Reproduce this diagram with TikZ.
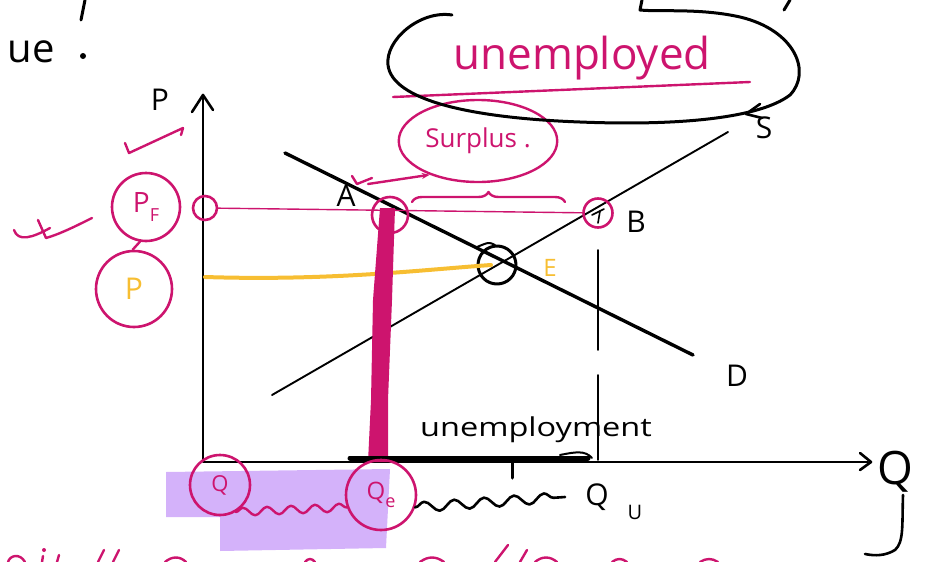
\documentclass[tikz,border=0pt]{standalone}
\usepackage{fontspec}
\setmainfont{Open Sans}
\usetikzlibrary{decorations.pathmorphing,decorations.pathreplacing,shapes.geometric,arrows.meta}
\definecolor{mag}{RGB}{205,20,110}
\definecolor{gold}{RGB}{247,190,50}
\definecolor{lav}{RGB}{212,178,250}
\begin{document}
\begin{tikzpicture}[x=1pt,y=-1pt,line cap=round,line join=round,
  ink/.style={black,line width=2.6pt},
  thinink/.style={black,line width=1.9pt},
  pen/.style={mag,line width=2.4pt},
  ring/.style={draw=mag,line width=2.6pt,circle,inner sep=0pt},
  lab/.style={font=\fontsize{30}{32}\selectfont,inner sep=0pt},
  wave/.style={decorate,decoration={snake,amplitude=4pt,segment length=24pt}}
]
\useasboundingbox (0,0) rectangle (926,562);
% lavender highlight
\fill[lav] (166,472) -- (390,469) -- (386,548) -- (220,551) -- (220,517) -- (166,517) -- cycle;

% axes
\coordinate (O) at (203,462);
\coordinate (Ytop) at (203,95);
\coordinate (Xend) at (868,462);
\draw[ink] (Ytop) -- (O) -- (Xend);
\draw[ink] ([shift={(-11,17)}]Ytop) -- (Ytop) -- ([shift={(10,15)}]Ytop);
\draw[ink] ([shift={(-8,8)}]Xend) -- ([shift={(3,0)}]Xend) -- ([shift={(-8,-9)}]Xend);
\node[lab] (Plab) at (160,100) {P};
\node[font=\fontsize{46}{46}\selectfont,inner sep=0pt] (Qlab) at (895,472) {Q};
\draw[black,line width=2.6pt] (903,495) .. controls (902,525) and (904,542) .. (895,550) .. controls (885,556) and (875,556) .. (865,554);

% supply and demand
\coordinate (S0) at (272,395); \coordinate (S1) at (728,132);
\draw[thinink] (S0) -- (S1);
\coordinate (D0) at (285,153); \coordinate (D1) at (693,355);
\draw[black,line width=3.4pt] (D0) -- (D1);
\node[lab] (Slab) at (764,128) {S};
\node[lab] (Dlab) at (737,376) {D};

% equilibrium
\node[draw=black,line width=3pt,circle,minimum size=38pt,inner sep=0pt] (E) at (497,265) {};
\draw[black,line width=2pt] ([shift={(-20,-18)}]E.center) .. controls ([shift={(-8,-23)}]E.center) .. ([shift={(-2,-20)}]E.center);
\node[lab,text=gold,font=\fontsize{24}{26}\selectfont] (Elab) at (550,268) {E};
\coordinate (Pax) at (205,277);
\draw[gold,line width=4pt] (Pax) .. controls (330,281) and (420,270) .. ([xshift=-6]E.center);

% price floor
\node[ring,minimum size=24pt] (pfax) at (205,208) {};
\node[ring,minimum size=36pt] (A) at (390,215) {};
\node[ring,minimum size=29pt] (B) at (598,213) {};
\draw[mag,line width=1.4pt] (pfax) -- (B);
\node[lab] (Alab) at (346,196) {A};
\node[lab] (Blab) at (636,222) {B};
\draw[black,line width=1.6pt] ([shift={(-6,2)}]B.center) -- ([shift={(6,-4)}]B.center);
\draw[black,line width=1.6pt] ([shift={(2,-2)}]B.center) -- ([shift={(0,10)}]B.center);

% thick magenta bar from A down
\fill[mag] (380,208) -- (395,208) -- (392,300) -- (388,400) -- (388,462) -- (368,462) -- (371,400) -- (373,300) -- cycle;

% dashed vertical from B
\coordinate (Bd1) at (598,250); \coordinate (Bd2) at (598,350);
\coordinate (Bd3) at (598,375); \coordinate (Bd4) at (598,460);
\draw[black,line width=1.6pt] (Bd1) -- (Bd2);
\draw[black,line width=1.6pt] (Bd3) -- (Bd4);

% unemployment bracket on x axis
\coordinate (U0) at (350,458); \coordinate (U1) at (588,458);
\draw[black,line width=5pt] (U0) -- (U1);
\draw[black,line width=2pt] (560,455) .. controls (575,452) and (585,450) .. (592,458);
\draw[black,line width=3pt] (512,462) -- (512,478);
\node[font=\fontsize{26}{28}\selectfont,inner sep=0pt,xscale=1.25] (unemt) at (536,430) {unemployment};
\node[lab] (Qu) at (597,497) {Q};
\node[font=\fontsize{20}{22}\selectfont,inner sep=0pt] (Qusub) at (635,512) {U};

% Q at origin and Qe
\node[ring,minimum size=60pt,text=mag,font=\fontsize{22}{24}\selectfont] (Qo) at (220,485) {Q};
\node[ring,minimum size=70pt,text=mag,font=\fontsize{24}{26}\selectfont] (Qe) at (381,495) {Q\raisebox{-0.35em}{\fontsize{18}{18}\selectfont e}};
\draw[pen,wave] (Qo.-60) -- (Qe.200);
\draw[black,line width=2.6pt,wave,decoration={snake,amplitude=5pt,segment length=30pt}] (Qe.-20) -- ([xshift=-20]Qu.west);

% surplus
\node[draw=mag,line width=2.4pt,ellipse,minimum width=156pt,minimum height=82pt,text=mag,font=\fontsize{26}{28}\selectfont] (surplus) at (478,141) {Surplus .};
\coordinate (br0) at (412,202); \coordinate (br1) at (565,202);
\draw[pen,decorate,decoration={brace,amplitude=10pt}] (br0) -- (br1);
\draw[pen] (352,176) -- (357,184) -- (372,178);
\draw[pen,-{Stealth[length=8pt]}] (368,184) -- (surplus.215);

% unemployed
\node[text=mag,font=\fontsize{44}{46}\selectfont,inner sep=0pt] (unemp) at (582,58) {unemployed};
\coordinate (ul0) at (393,97); \coordinate (ul1) at (750,82);
\draw[pen] (ul0) -- (ul1);
\draw[black,line width=3pt] (452,15) .. controls (420,10) and (385,40) .. (388,65)
  .. controls (392,100) and (470,118) .. (580,122)
  .. controls (680,126) and (760,118) .. (790,95)
  .. controls (812,72) and (795,30) .. (740,17)
  .. controls (700,8) and (660,12) .. (640,10) -- (642,0);
\draw[black,line width=2.6pt] (760,104) -- (746,114) -- (762,118);

% left circles
\node[ring,minimum size=68pt,text=mag,font=\fontsize{28}{30}\selectfont] (pfc) at (146,207) {P\raisebox{-0.3em}{\fontsize{18}{18}\selectfont F}};
\node[ring,minimum size=76pt,text=gold,font=\fontsize{30}{32}\selectfont] (pc) at (134,289) {P};
\draw[pen] (pfc.-100) -- (pc.92);
\draw[pen] (125,143) -- (129,153) -- (183,128) -- (181,135);
\draw[pen] (14,230) .. controls (18,242) and (32,238) .. (50,228);
\draw[pen] (38,220) -- (46,238) .. controls (60,234) and (76,226) .. (92,218);

% top fragments
\node[font=\fontsize{40}{40}\selectfont,inner sep=0pt,anchor=east] (ue) at (55,52) {ue};
\fill (83,56) circle (3);
\draw[black,line width=3pt] (85,0) -- (81,20);
\draw[black,line width=3pt] (790,0) -- (784,10);

% bottom fragments (cut-off handwriting)
\begin{scope}[mag,line width=2.4pt]
\draw (8,562) .. controls (10,555) and (20,553) .. (25,562);
\draw (42,562) -- (43,556); \fill (44,550) circle (2);
\draw (57,562) -- (59,555);
\draw (98,562) -- (104,550); \draw (113,562) -- (119,550);
\draw (165,562) .. controls (172,556) and (180,556) .. (186,562);
\draw (305,562) .. controls (308,558) and (312,558) .. (315,562);
\draw (420,562) .. controls (428,556) and (436,556) .. (444,562);
\draw (495,562) -- (508,545); \draw (520,562) -- (527,550);
\draw (535,562) .. controls (542,556) and (550,556) .. (557,562);
\draw (612,562) .. controls (617,558) and (622,558) .. (627,562);
\draw (700,562) .. controls (706,558) and (712,558) .. (718,562);
\end{scope}
\end{tikzpicture}
\end{document}
